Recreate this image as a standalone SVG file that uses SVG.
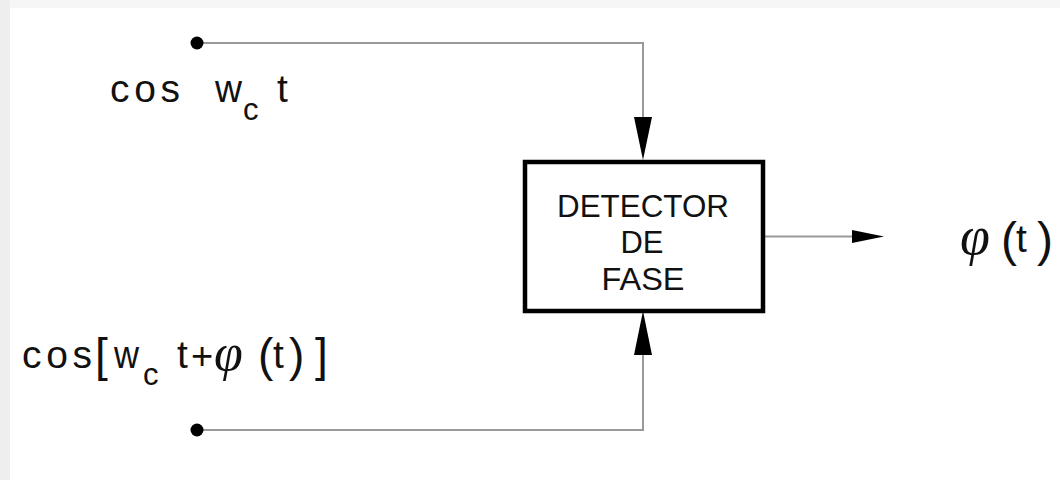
<svg xmlns="http://www.w3.org/2000/svg" width="1060" height="480" viewBox="0 0 1060 480">
<style>
.wire{fill:none;stroke:#999;stroke-width:2}
.head{fill:#000}
.dot{fill:#000}
.box{fill:#fff;stroke:#000;stroke-width:4.5}
.t{font-family:"Liberation Sans","DejaVu Sans",sans-serif;fill:#111}
.lbl{font-size:39px}
.sub{font-size:31px}
.bt{font-size:31px;text-anchor:middle}
.phi{font-family:"Liberation Serif","DejaVu Serif",serif;font-style:italic;fill:#111}
</style>
<rect x="0" y="0" width="1060" height="480" fill="#fff"/>
<rect x="0" y="0" width="1060" height="8" fill="#f6f6f6"/>
<rect x="0" y="0" width="10" height="480" fill="#eeeeee"/>
<g id="connectors">
<polyline class="wire" points="197,43 643,43 643,118"/>
<polygon class="head" points="634,117 652,117 643,160"/>
<polyline class="wire" points="197,430 643,430 643,354"/>
<polygon class="head" points="634,355 652,355 643,311"/>
<line class="wire" x1="765" y1="236.5" x2="853" y2="236.5"/>
<polygon class="head" points="852,230 852,243 884,236.5"/>
<circle class="dot" cx="197" cy="43" r="6.5"/>
<circle class="dot" cx="197" cy="430" r="6.5"/>
</g>
<g id="detector">
<rect class="box" x="525" y="162" width="238" height="149"/>
<text class="t bt" x="643" y="217" textLength="172" lengthAdjust="spacingAndGlyphs">DETECTOR</text>
<text class="t bt" x="642" y="253" textLength="43" lengthAdjust="spacingAndGlyphs">DE</text>
<text class="t bt" x="643" y="290" textLength="83" lengthAdjust="spacingAndGlyphs">FASE</text>
</g>
<g id="input-ref">
<text class="t lbl" x="110" y="102" textLength="70" lengthAdjust="spacing">cos</text>
<text class="t lbl" x="215" y="102" textLength="27" lengthAdjust="spacingAndGlyphs">w</text>
<text class="t sub" x="243" y="120">c</text>
<text class="t lbl" x="277" y="102">t</text>
</g>
<g id="input-signal">
<text class="t lbl" x="22" y="368" textLength="70" lengthAdjust="spacing">cos</text>
<text class="t" x="95" y="371" font-size="46">[</text>
<text class="t lbl" x="114" y="368" textLength="25" lengthAdjust="spacingAndGlyphs">w</text>
<text class="t sub" x="143" y="385">c</text>
<text class="t lbl" x="177" y="368">t</text>
<text class="t" x="191" y="369" font-size="38">+</text>
<text class="phi" x="214" y="370" font-size="52">φ</text>
<text class="t" x="258" y="371" font-size="46">(</text>
<text class="t lbl" x="273" y="368">t</text>
<text class="t" x="289" y="371" font-size="46">)</text>
<text class="t" x="315" y="371" font-size="46">]</text>
</g>
<g id="output">
<text class="phi" x="960" y="254" font-size="54">φ</text>
<text class="t" x="1001" y="256" font-size="48">(</text>
<text class="t lbl" x="1016" y="252">t</text>
<text class="t" x="1037" y="256" font-size="48">)</text>
</g>
</svg>
